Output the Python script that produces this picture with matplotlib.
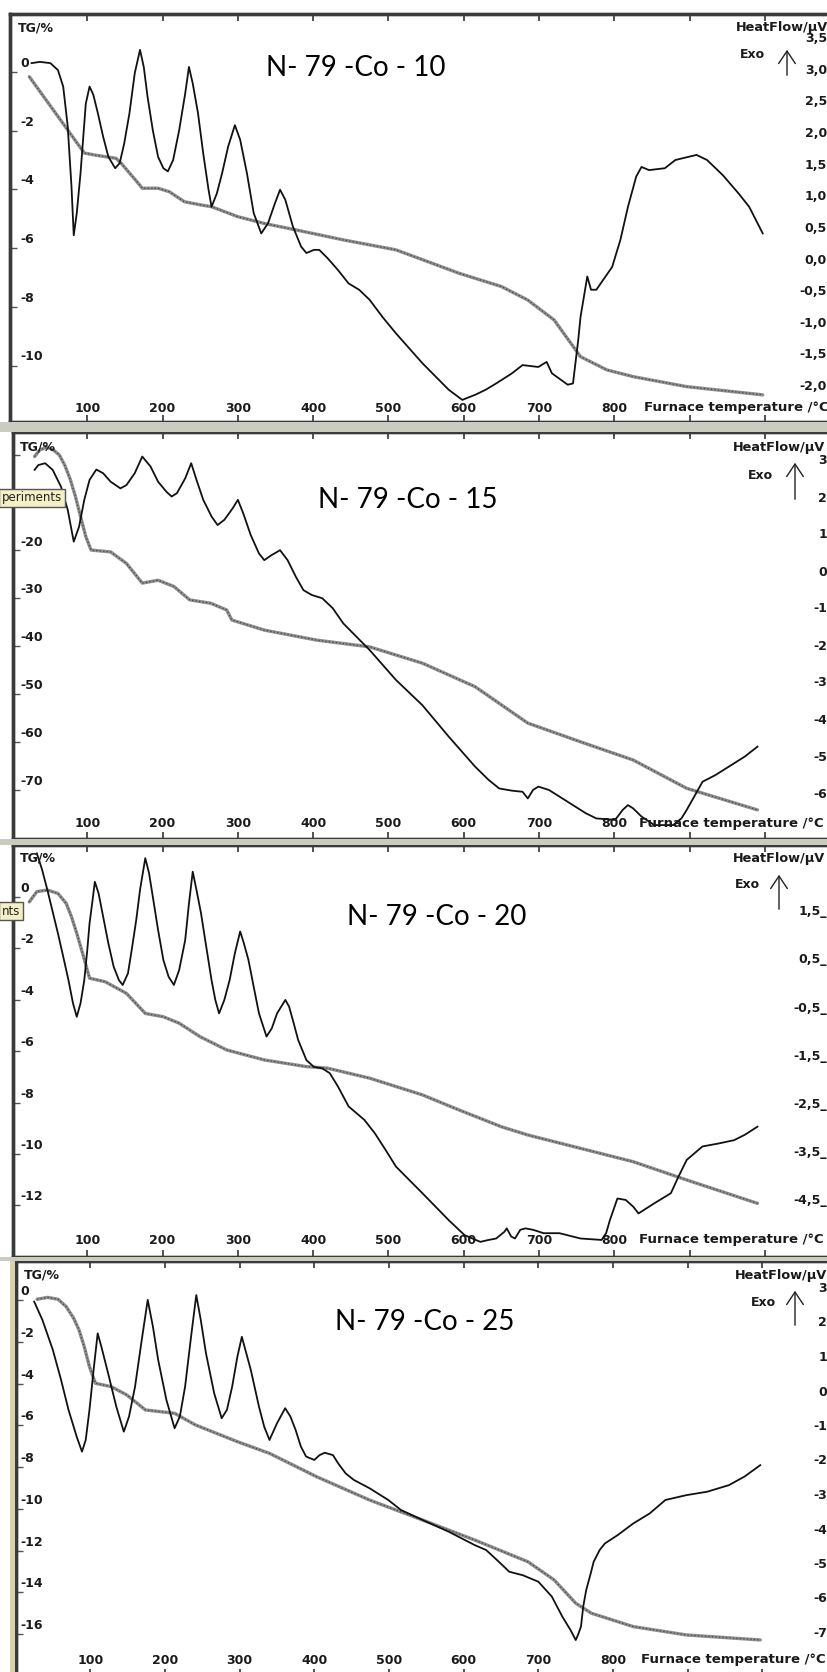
import matplotlib
matplotlib.use("Agg")
import matplotlib.pyplot as plt
from matplotlib.patches import Rectangle, FancyArrowPatch
from matplotlib.transforms import blended_transform_factory

W, H = 828, 1672

# ---------------- data: N-79-Co-10 ----------------
tg10_t = [23, 96, 110, 138, 145, 166, 173, 194, 209, 229, 251, 265, 300, 335, 377,
          440, 510, 594, 650, 685, 720, 755, 790, 825, 896, 997]
tg10_v = [-0.16, -2.76, -2.83, -2.94, -3.11, -3.74, -3.96, -3.96, -4.08, -4.42, -4.53,
          -4.59, -4.93, -5.16, -5.38, -5.72, -6.06, -6.86, -7.31, -7.77, -8.45, -9.70,
          -10.15, -10.38, -10.72, -11.00]
dsc10_t = [26, 37, 51, 61, 68, 74, 79, 82, 86, 91, 95, 98, 103, 108, 114, 121, 128,
           137, 143, 149, 156, 163, 170, 175, 180, 187, 194, 201, 207, 214, 222, 230,
           235, 240, 247, 254, 261, 265, 272, 279, 287, 296, 303, 312, 321, 331, 340,
           349, 356, 363, 373, 384, 391, 401, 408, 419, 433, 447, 461, 475, 492, 510,
           545, 580, 598, 615, 629, 643, 664, 678, 699, 710, 717, 738, 745, 752, 755,
           764, 769, 776, 797, 808, 818, 829, 836, 846, 867, 881, 909, 923, 944, 965,
           979, 997]
dsc10_v = [3.11, 3.13, 3.11, 3.00, 2.74, 2.11, 1.16, 0.39, 0.74, 1.37, 2.00, 2.47, 2.74,
           2.61, 2.32, 1.95, 1.63, 1.45, 1.53, 1.84, 2.32, 2.95, 3.32, 3.05, 2.58, 2.05,
           1.63, 1.45, 1.40, 1.58, 2.05, 2.63, 3.05, 2.79, 2.32, 1.68, 1.11, 0.84, 1.05,
           1.37, 1.79, 2.13, 1.90, 1.37, 0.74, 0.42, 0.58, 0.89, 1.11, 0.95, 0.53, 0.21,
           0.11, 0.16, 0.16, 0.03, -0.16, -0.37, -0.47, -0.63, -0.90, -1.16, -1.63,
           -2.05, -2.21, -2.13, -2.05, -1.95, -1.79, -1.66, -1.69, -1.61, -1.79, -1.97,
           -1.95, -1.26, -0.90, -0.26, -0.47, -0.47, -0.11, 0.32, 0.84, 1.32, 1.47, 1.42,
           1.45, 1.58, 1.66, 1.58, 1.34, 1.05, 0.84, 0.42]

# ---------------- data: N-79-Co-15 ----------------
tg15_t = [30, 37, 46, 54, 63, 70, 77, 84, 91, 98, 105, 131, 152, 173, 194, 215, 236,
          264, 285, 292, 335, 405, 475, 545, 615, 685, 755, 825, 896, 990]
tg15_v = [-0.4, 1.0, 1.5, 1.1, -0.1, -2.2, -5.0, -8.6, -12.9, -17.1, -19.9, -20.3,
          -22.7, -26.8, -26.2, -27.5, -30.3, -31.0, -32.4, -34.5, -36.6, -38.7, -40.1,
          -43.5, -48.4, -56.0, -59.9, -63.7, -69.6, -74.1]
dsc15_t = [30, 35, 44, 54, 65, 74, 82, 89, 96, 103, 112, 121, 131, 144, 152, 163, 173,
           184, 194, 205, 212, 219, 230, 238, 245, 254, 265, 273, 282, 293, 300, 307,
           317, 328, 335, 345, 356, 366, 377, 387, 398, 412, 426, 440, 475, 510, 545,
           580, 615, 633, 647, 664, 678, 685, 692, 699, 713, 727, 741, 762, 776, 801,
           811, 818, 825, 836, 853, 878, 889, 896, 906, 917, 934, 952, 973, 990]
dsc15_v = [2.76, 2.89, 2.94, 2.76, 2.31, 1.68, 0.82, 1.22, 1.95, 2.49, 2.77, 2.67, 2.44,
           2.26, 2.35, 2.67, 3.12, 2.85, 2.44, 2.17, 2.04, 2.13, 2.53, 2.94, 2.49, 1.95,
           1.50, 1.27, 1.41, 1.72, 1.95, 1.59, 1.00, 0.50, 0.32, 0.46, 0.59, 0.32, -0.13,
           -0.49, -0.62, -0.71, -0.98, -1.39, -2.11, -2.92, -3.60, -4.45, -5.26, -5.62,
           -5.85, -5.91, -5.94, -6.12, -5.89, -5.80, -5.89, -6.07, -6.25, -6.52, -6.66,
           -6.70, -6.43, -6.30, -6.39, -6.61, -6.84, -6.84, -6.66, -6.43, -6.07, -5.67,
           -5.49, -5.26, -4.99, -4.72]

# ---------------- data: N-79-Co-20 ----------------
tg20_t = [23, 33, 47, 61, 72, 79, 86, 95, 103, 124, 152, 177, 201, 222, 250, 285, 335,
          391, 419, 475, 545, 594, 650, 685, 755, 825, 896, 990]
tg20_v = [-0.19, 0.21, 0.27, 0.14, -0.25, -0.77, -1.41, -2.32, -3.16, -3.30, -3.75,
          -4.53, -4.66, -4.91, -5.44, -5.95, -6.34, -6.60, -6.66, -7.05, -7.70, -8.29,
          -8.94, -9.26, -9.78, -10.30, -11.01, -11.92]
dsc20_t = [33, 40, 47, 54, 61, 68, 75, 81, 86, 91, 96, 100, 103, 107, 110, 115, 121,
           128, 135, 142, 147, 154, 159, 165, 170, 177, 182, 187, 194, 201, 208, 215,
           222, 230, 235, 240, 245, 251, 258, 265, 270, 275, 282, 289, 296, 303, 308,
           314, 321, 328, 338, 345, 352, 363, 368, 373, 380, 391, 401, 412, 422, 433,
           447, 468, 482, 496, 510, 545, 580, 601, 622, 633, 643, 654, 657, 663, 668,
           675, 682, 692, 706, 727, 755, 783, 789, 794, 804, 815, 825, 832, 843, 853,
           875, 885, 896, 917, 938, 959, 973, 990]
dsc20_v = [2.71, 2.37, 1.95, 1.50, 1.05, 0.57, 0.08, -0.40, -0.68, -0.40, 0.08, 0.71,
           1.26, 1.74, 2.12, 1.88, 1.40, 0.84, 0.36, 0.08, -0.02, 0.22, 0.71, 1.33, 1.95,
           2.61, 2.30, 1.81, 1.12, 0.50, 0.15, -0.02, 0.29, 0.91, 1.67, 2.33, 1.95, 1.47,
           0.77, 0.08, -0.33, -0.61, -0.33, 0.08, 0.64, 1.09, 0.84, 0.50, -0.06, -0.61,
           -1.09, -0.92, -0.61, -0.33, -0.47, -0.75, -1.16, -1.58, -1.72, -1.75, -1.85,
           -2.13, -2.54, -2.82, -3.10, -3.44, -3.79, -4.34, -4.90, -5.21, -5.35, -5.31,
           -5.28, -5.14, -5.07, -5.24, -5.28, -5.10, -5.07, -5.10, -5.17, -5.17, -5.28,
           -5.31, -5.17, -4.90, -4.45, -4.48, -4.62, -4.76, -4.65, -4.55, -4.34, -4.00,
           -3.65, -3.37, -3.31, -3.24, -3.13, -2.96]

# ---------------- data: N-79-Co-25 ----------------
tg25_t = [29, 43, 57, 68, 78, 85, 92, 99, 107, 128, 149, 174, 213, 241, 297, 340, 403,
          474, 545, 615, 686, 721, 750, 771, 827, 898, 997]
tg25_v = [0.05, 0.14, 0.05, -0.31, -0.87, -1.42, -2.22, -3.18, -3.98, -4.14, -4.54,
          -5.26, -5.42, -5.98, -6.78, -7.34, -8.46, -9.58, -10.54, -11.50, -12.54,
          -13.41, -14.53, -15.01, -15.65, -16.05, -16.29]
dsc25_t = [25, 36, 50, 61, 71, 82, 89, 94, 99, 105, 110, 115, 124, 135, 145, 152, 160,
           169, 177, 184, 191, 202, 213, 220, 227, 235, 242, 248, 255, 266, 276, 283,
           290, 297, 303, 309, 315, 326, 333, 340, 350, 361, 368, 375, 382, 389, 400,
           407, 414, 425, 432, 442, 453, 474, 499, 516, 545, 580, 615, 630, 647, 661,
           679, 700, 718, 732, 743, 750, 753, 757, 760, 764, 770, 774, 782, 789, 806,
           827, 849, 870, 898, 926, 955, 976, 997]
dsc25_v = [2.62, 2.09, 1.22, 0.35, -0.52, -1.30, -1.73, -1.39, -0.52, 0.73, 1.70, 1.31,
           0.54, -0.43, -1.15, -0.71, 0.15, 1.51, 2.67, 1.89, 0.93, -0.23, -1.05, -0.71,
           0.15, 1.60, 2.81, 2.09, 1.12, -0.04, -0.76, -0.52, 0.15, 1.02, 1.60, 1.12,
           0.64, -0.43, -1.01, -1.39, -0.91, -0.47, -0.71, -1.10, -1.58, -1.87, -1.97,
           -1.83, -1.76, -1.83, -2.07, -2.36, -2.55, -2.79, -3.13, -3.42, -3.71, -4.05,
           -4.44, -4.58, -4.92, -5.21, -5.31, -5.50, -5.93, -6.51, -6.90, -7.19, -7.04,
           -6.80, -6.22, -5.74, -5.26, -4.92, -4.58, -4.39, -4.15, -3.81, -3.52, -3.13,
           -2.99, -2.89, -2.70, -2.45, -2.12]

titles = ["N- 79 -Co - 10", "N- 79 -Co - 15", "N- 79 -Co - 20", "N- 79 -Co - 25"]
x_ticks = [100, 200, 300, 400, 500, 600, 700, 800, 900, 1000]
x_tick_labels = ["100", "200", "300", "400", "500", "600", "700", "800"]
tg_ticks = [[0, -2, -4, -6, -8, -10],
            [0, -10, -20, -30, -40, -50, -60, -70],
            [0, -2, -4, -6, -8, -10, -12],
            [0, -2, -4, -6, -8, -10, -12, -14, -16]]
tg_labelled = [[0, -2, -4, -6, -8, -10],
               [-20, -30, -40, -50, -60, -70],
               [0, -2, -4, -6, -8, -10, -12],
               [0, -2, -4, -6, -8, -10, -12, -14, -16]]
dsc_ticks = [[3.5, 3.0, 2.5, 2.0, 1.5, 1.0, 0.5, 0.0, -0.5, -1.0, -1.5, -2.0],
             [3, 2, 1, 0, -1, -2, -3, -4, -5, -6],
             [1.5, 0.5, -0.5, -1.5, -2.5, -3.5, -4.5],
             [3, 2, 1, 0, -1, -2, -3, -4, -5, -6, -7]]
dsc_fmt = ["{:.1f}", "{:.0f}", "{:.1f}_", "{:.0f}"]

series = [(tg10_t, tg10_v, dsc10_t, dsc10_v),
          (tg15_t, tg15_v, dsc15_t, dsc15_v),
          (tg20_t, tg20_v, dsc20_t, dsc20_v),
          (tg25_t, tg25_v, dsc25_t, dsc25_v)]

# panel frames in pixels and axis calibration
layout = [
    dict(left=10, top=14, bottom=422, x0=12, ppd=0.753,
         tg0=72, tgppu=29.35, dsc0=260, dscppu=63.3,
         title=(356, 68), lab_y=408, furn_x=644, hf=(736, 28), exo=(752, 55),
         arr=(787, 78, 47), tgl=(18, 28)),
    dict(left=13, top=432, bottom=839, x0=12, ppd=0.753,
         tg0=454.6, tgppu=4.795, dsc0=572, dscppu=37.0,
         title=(408, 500), lab_y=823, furn_x=639, hf=(733, 447), exo=(760, 475),
         arr=(795, 502, 460), tgl=(20, 447)),
    dict(left=13, top=845, bottom=1257, x0=12, ppd=0.753,
         tg0=897, tgppu=25.7, dsc0=984, dscppu=48.2,
         title=(437, 917), lab_y=1240, furn_x=639, hf=(733, 858), exo=(747, 885),
         arr=(779, 912, 872), tgl=(20, 858)),
    dict(left=16, top=1261, bottom=1676, x0=15.5, ppd=0.747,
         tg0=1300.3, tgppu=20.85, dsc0=1392, dscppu=34.5,
         title=(425, 1322), lab_y=1660, furn_x=641, hf=(735, 1275), exo=(763, 1302),
         arr=(795, 1328, 1288), tgl=(24, 1275)),
]
RIGHT_PX = 850

fig = plt.figure(figsize=(W / 100, H / 100), dpi=100)
fig.patch.set_facecolor("white")


def fx(px):
    return px / W


def fy(py):
    return 1 - py / H


# grey separator bands between the stacked panels
for y1, y2 in [(422, 432), (839, 845), (1257, 1261)]:
    fig.patches.append(Rectangle((0, fy(y2)), 1, fy(y1) - fy(y2),
                                 transform=fig.transFigure, facecolor="#c9ccbf",
                                 edgecolor="none", zorder=0))
# beige strip along the left edge of the last panel
fig.patches.append(Rectangle((fx(10), 0), fx(5), fy(1261), transform=fig.transFigure,
                             facecolor="#d9d2ac", edgecolor="none", zorder=0))

small = dict(family="DejaVu Sans", fontweight="bold", fontsize=9.0, color="#1a1a1a")
EDGE = "#3a3a3a"

for i, (L, (tt, tv, dt, dv)) in enumerate(zip(layout, series)):
    left, top, bottom = L["left"], L["top"], L["bottom"]
    ax = fig.add_axes([fx(left), fy(bottom), fx(RIGHT_PX) - fx(left), fy(top) - fy(bottom)])
    ax.set_facecolor("white")
    ax.set_xlim((left - L["x0"]) / L["ppd"], (RIGHT_PX - L["x0"]) / L["ppd"])
    ax.set_ylim((L["tg0"] - bottom) / L["tgppu"], (L["tg0"] - top) / L["tgppu"])
    ax2 = ax.twinx()
    ax2.set_ylim((L["dsc0"] - bottom) / L["dscppu"], (L["dsc0"] - top) / L["dscppu"])

    for a in (ax, ax2):
        for s in a.spines.values():
            s.set_color(EDGE)
            s.set_linewidth(2.4)
    ax.spines["left"].set_color("#111111")

    ax.set_xticks(x_ticks)
    ax.tick_params(axis="x", direction="in", top=True, bottom=True, length=5, width=1.1,
                   color="#222222", labelbottom=False, labeltop=False)
    ax.set_yticks(tg_ticks[i])
    ax.tick_params(axis="y", direction="in", left=True, length=5, width=1.0,
                   color="#555555", labelleft=False)
    ax2.set_yticks([])

    # TG: grey stippled trace
    ax.plot(tt, tv, color="#8e8e8e", lw=2.4, solid_capstyle="round", zorder=3)
    ax.plot(tt, tv, color="#454545", lw=0.9, linestyle=(0, (1.0, 1.8)), zorder=4)
    # heat flow: thin black trace
    ax2.plot(dt, dv, color="#111111", lw=1.3, zorder=5, solid_joinstyle="round")

    # left TG labels sit just above their tick marks
    ytr = ax.get_yaxis_transform()
    for v in tg_labelled[i]:
        ax.annotate(str(v), xy=(0, v), xycoords=ytr,
                    xytext=(20 - left, 2), textcoords="offset pixels",
                    ha="left", va="bottom", annotation_clip=False, **small)

    # bottom temperature labels
    yl = (bottom - L["lab_y"]) / (bottom - top)
    xtr = ax.get_xaxis_transform()
    for t, s in zip(x_ticks, x_tick_labels):
        ax.text(t, yl, s, transform=xtr, ha="center", va="center", **small)
    fig.text(fx(L["furn_x"]), fy(L["lab_y"]), "Furnace temperature /\u00b0C",
             ha="left", va="center", **dict(small, fontsize=9.5))

    # right heat-flow labels
    rtr = blended_transform_factory(fig.transFigure, ax2.transData)
    for v in dsc_ticks[i]:
        s = dsc_fmt[i].format(v).replace(".", ",")
        ax2.text(fx(827), v, s, transform=rtr, ha="right", va="center",
                 clip_on=False, **small)

    fig.text(fx(L["hf"][0]), fy(L["hf"][1]), "HeatFlow/\u00b5V", ha="left", va="center",
             **dict(small, fontsize=9.3))
    fig.text(fx(L["tgl"][0]), fy(L["tgl"][1]), "TG/%", ha="left", va="center", **small)
    fig.text(fx(L["exo"][0]), fy(L["exo"][1]), "Exo", ha="center", va="center", **small)
    ax_, y_a, y_b = L["arr"]
    fig.patches.append(FancyArrowPatch((fx(ax_), fy(y_a)), (fx(ax_), fy(y_b)),
                                       transform=fig.transFigure,
                                       arrowstyle="->,head_length=6,head_width=4",
                                       lw=1.0, color="#222222", mutation_scale=1.5))

    fig.text(fx(L["title"][0]), fy(L["title"][1]), titles[i], ha="center", va="center",
             family="Lato", fontsize=20, color="black")

# software tooltip fragments on the left edge
for ty, txt in [(498, "periments"), (911, "nts")]:
    fig.text(fx(2), fy(ty), txt, ha="left", va="center", family="DejaVu Sans",
             fontsize=8.5, color="#222222",
             bbox=dict(boxstyle="square,pad=0.25", facecolor="#f3efc6",
                       edgecolor="#555555", lw=1))

fig.savefig("out.png", dpi=100, facecolor="white")
